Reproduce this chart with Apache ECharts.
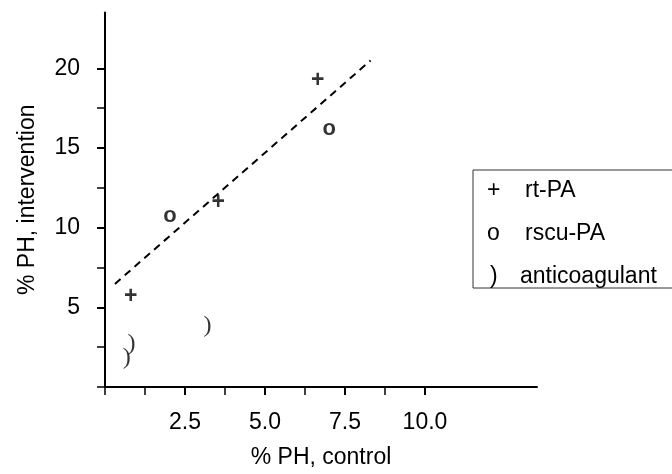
<!DOCTYPE html>
<html>
<head>
<meta charset="utf-8">
<script src="https://cdn.jsdelivr.net/npm/echarts@6/dist/echarts.min.js"></script>
<style>
  html, body { margin: 0; padding: 0; background: #fff; }
  #chart { width: 672px; height: 474px; }
</style>
</head>
<body>
<div id="chart"></div>
<script>
// values: [% PH control, % PH intervention]
const rtPA = [[0.80, 5.64], [3.54, 11.58], [6.65, 19.22]];
const rscuPA = [[2.03, 10.64], [7.01, 16.05]];
const anticoagulant = [[3.2, 3.72], [0.83, 2.57], [0.68, 1.74]];
const fitLine = [[0.31, 6.47], [8.30, 20.49]];

const seriesNames = ["rt-PA", "rscu-PA", "anticoagulant"];
const markers = { "rt-PA": "+", "rscu-PA": "o", "anticoagulant": ")" };

const xMajorTicks = [2.5, 5, 7.5, 10];
const xMinorTicks = [0, 1.25, 3.75, 6.25, 8.75];
const yMajorTicks = [5, 10, 15, 20];
const yMinorTicks = [0, 2.5, 7.5, 12.5, 17.5];

const sans = "'Liberation Sans', Arial, sans-serif";
const serif = "'Liberation Serif', 'Times New Roman', serif";
const fs = 23;

const chart = echarts.init(document.getElementById("chart"));

const markerSeries = (name, data, label) => ({
  name,
  type: "scatter",
  data,
  symbol: "circle",
  symbolSize: 2,
  itemStyle: { color: "rgba(0,0,0,0)" },
  silent: true,
  emphasis: { disabled: true },
  label: Object.assign(
    {
      show: true,
      position: "inside",
      formatter: markers[name],
      color: "#000",
      fontSize: 23,
      fontWeight: "bold",
      fontFamily: sans,
    },
    label
  ),
});

const option = {
  animation: false,
  grid: { left: 105, right: 135, top: 12.5, bottom: 85.5 },
  legend: {
    data: seriesNames,
    orient: "vertical",
    left: 473,
    top: 170,
    icon: "none",
    itemWidth: 0,
    itemHeight: 10,
    itemGap: 20,
    selectedMode: false,
    borderColor: "#333",
    borderWidth: 1,
    borderRadius: 0,
    padding: [9, 30, 0, 9],
    formatter: (name) =>
      name === "anticoagulant"
        ? `{p|${markers[name]}}{t|${name}}`
        : `{s|${markers[name]}}{t|${name}}`,
    textStyle: {
      color: "#000",
      fontSize: fs,
      fontFamily: sans,
      rich: {
        s: { width: 38, fontSize: fs, fontFamily: sans, lineHeight: 20 },
        p: { width: 30, fontSize: fs, fontFamily: sans, lineHeight: 20, padding: [0, 0, 0, 3] },
        t: { fontSize: fs, fontFamily: sans, lineHeight: 20 },
      },
    },
  },
  xAxis: [
    {
      type: "value",
      position: "bottom",
      min: 0,
      max: 13.5,
      name: "% PH, control",
      nameLocation: "middle",
      nameGap: 59,
      nameTextStyle: { color: "#000", fontSize: fs, fontFamily: sans },
      axisLine: { show: true, lineStyle: { color: "#000", width: 2 } },
      axisTick: { show: true, customValues: xMajorTicks, length: 8, lineStyle: { color: "#000", width: 2 } },
      axisLabel: {
        customValues: xMajorTicks,
        formatter: (v) => v.toFixed(1),
        color: "#000",
        fontSize: fs,
        fontFamily: sans,
        margin: 24,
      },
      splitLine: { show: false },
    },
    {
      type: "value",
      position: "bottom",
      min: 0,
      max: 13.5,
      axisLine: { show: false },
      axisTick: { show: true, customValues: xMinorTicks, length: 8, lineStyle: { color: "#000", width: 1.5 } },
      axisLabel: { show: false },
      splitLine: { show: false },
    },
  ],
  yAxis: [
    {
      type: "value",
      position: "left",
      min: 0,
      max: 23.5,
      name: "% PH, intervention",
      nameLocation: "middle",
      nameGap: 66,
      nameTextStyle: { color: "#000", fontSize: fs, fontFamily: sans },
      axisLine: { show: true, lineStyle: { color: "#000", width: 2 } },
      axisTick: { show: true, customValues: yMajorTicks, length: 8, lineStyle: { color: "#000", width: 2 } },
      axisLabel: {
        customValues: yMajorTicks,
        color: "#000",
        fontSize: fs,
        fontFamily: sans,
        margin: 25,
      },
      splitLine: { show: false },
    },
    {
      type: "value",
      position: "left",
      min: 0,
      max: 23.5,
      axisLine: { show: false },
      axisTick: { show: true, customValues: yMinorTicks, length: 8, lineStyle: { color: "#000", width: 1.5 } },
      axisLabel: { show: false },
      splitLine: { show: false },
    },
  ],
  series: [
    {
      name: "fit",
      type: "line",
      data: fitLine,
      symbol: "none",
      silent: true,
      lineStyle: { color: "#000", width: 2, type: [7.5, 5.5] },
    },
    markerSeries("rt-PA", rtPA),
    markerSeries("rscu-PA", rscuPA, { fontSize: 22, offset: [0, -2] }),
    markerSeries("anticoagulant", anticoagulant, { fontFamily: serif, fontWeight: "normal", fontSize: 24, offset: [0, -2] }),
  ],
};

chart.setOption(option);
</script>
</body>
</html>
